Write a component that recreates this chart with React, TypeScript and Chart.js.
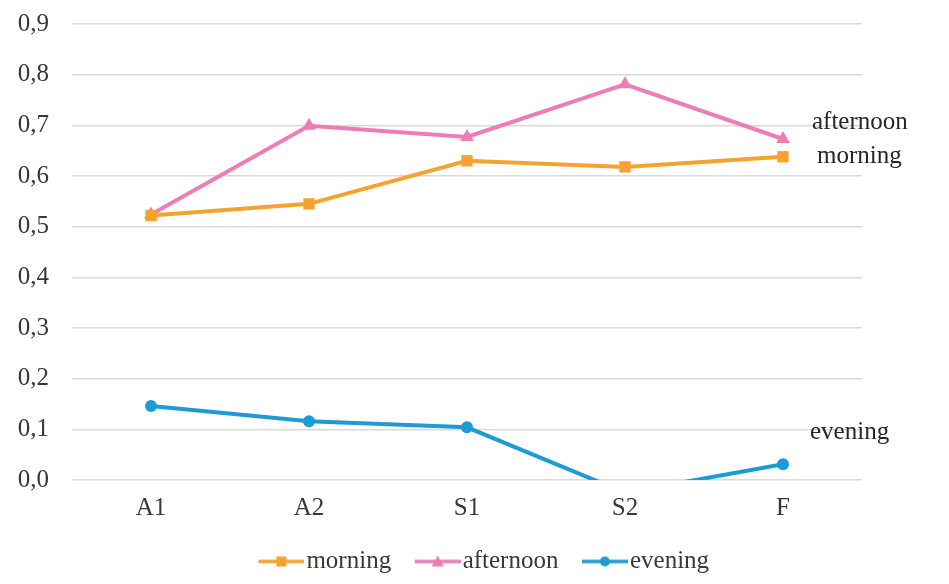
import React, { useEffect, useRef } from "react";
import { Chart, registerables } from "chart.js";

Chart.register(...registerables);

const categories = ["A1", "A2", "S1", "S2", "F"];
const morning = [0.522, 0.545, 0.63, 0.618, 0.638];
const afternoon = [0.524, 0.699, 0.677, 0.781, 0.673];
const evening = [0.146, 0.116, 0.104, -0.025, 0.031];
const yTicks = [0, 0.1, 0.2, 0.3, 0.4, 0.5, 0.6, 0.7, 0.8, 0.9];

const ORANGE = "#F5A330";
const PINK = "#EE7DB6";
const BLUE = "#1E9BD3";
const FONT = "'Liberation Serif', 'Times New Roman', serif";
const FS = 25;
const TEXT = "#383838";

function legendIcon(color: string, style: string) {
  const L = 11;
  const c = document.createElement("canvas");
  c.width = L + 46;
  c.height = 14;
  const ctx = c.getContext("2d")!;
  ctx.strokeStyle = color;
  ctx.lineWidth = 3.5;
  ctx.beginPath();
  ctx.moveTo(L, 7);
  ctx.lineTo(L + 46, 7);
  ctx.stroke();
  ctx.fillStyle = color;
  const cx = L + 23;
  if (style === "rect") {
    ctx.fillRect(cx - 5, 2, 10, 10);
  } else if (style === "triangle") {
    ctx.beginPath();
    ctx.moveTo(cx, 1);
    ctx.lineTo(cx + 6, 12);
    ctx.lineTo(cx - 6, 12);
    ctx.closePath();
    ctx.fill();
  } else {
    ctx.beginPath();
    ctx.arc(cx, 7, 5, 0, Math.PI * 2);
    ctx.fill();
  }
  return c;
}

const endLabels = {
  id: "endLabels",
  afterDatasetsDraw(chart: any, _args: any, opts: any) {
    const ctx = chart.ctx;
    ctx.save();
    ctx.font = `${FS}px ${FONT}`;
    ctx.fillStyle = "#262626";
    ctx.textAlign = "left";
    ctx.textBaseline = "middle";
    chart.data.datasets.forEach((ds: any, i: number) => {
      const meta = chart.getDatasetMeta(i);
      const pt = meta.data[meta.data.length - 1];
      const off = opts.offsets[i];
      ctx.fillText(ds.label, pt.x + off[0], pt.y + off[1]);
    });
    ctx.restore();
  },
};

export default function App() {
  const ref = useRef<HTMLCanvasElement>(null);
  useEffect(() => {
    const chart = new Chart(ref.current!, {
      type: "line",
      data: {
        labels: categories,
        datasets: [
          {
            label: "morning",
            data: morning,
            borderColor: ORANGE,
            backgroundColor: ORANGE,
            borderWidth: 4,
            pointStyle: "rect",
            pointRadius: 8,
            pointBorderWidth: 0,
            clip: 0,
            tension: 0,
          },
          {
            label: "afternoon",
            data: afternoon,
            borderColor: PINK,
            backgroundColor: PINK,
            borderWidth: 4,
            pointStyle: "triangle",
            pointRadius: 8,
            pointBorderWidth: 0,
            clip: 0,
            tension: 0,
          },
          {
            label: "evening",
            data: evening,
            borderColor: BLUE,
            backgroundColor: BLUE,
            borderWidth: 4,
            pointStyle: "circle",
            pointRadius: 6,
            pointBorderWidth: 0,
            clip: 0,
            tension: 0,
          },
        ],
      },
      options: {
        animation: false,
        responsive: false,
        layout: { padding: { top: 0, right: 0, left: 18, bottom: 0 } },
        scales: {
          x: {
            offset: true,
            grid: { display: false },
            border: { display: false },
            ticks: { font: { family: FONT, size: FS }, color: TEXT, padding: 5 },
            afterFit: (s: any) => {
              s.height = 46;
            },
          },
          y: {
            min: 0,
            max: 0.9,
            afterBuildTicks: (s: any) => {
              s.ticks = yTicks.map((v) => ({ value: v }));
            },
            afterFit: (s: any) => {
              s.width = 54;
              s.paddingTop = 24;
              s.paddingBottom = 0;
            },
            grid: { color: "#D9D9D9", lineWidth: 1.5, drawTicks: false },
            border: { display: false },
            ticks: {
              font: { family: FONT, size: FS },
              color: TEXT,
              padding: 23,
              callback: (v: any) => Number(v).toFixed(1).replace(".", ","),
            },
          },
          yRight: {
            position: "right",
            display: true,
            grid: { display: false, drawTicks: false },
            border: { display: false },
            ticks: { display: false },
            afterFit: (s: any) => {
              s.width = 87;
              s.paddingTop = 0;
              s.paddingBottom = 0;
            },
          },
        },
        plugins: {
          legend: {
            position: "bottom",
            labels: {
              usePointStyle: true,
              pointStyleWidth: 36,
              padding: 23,
              font: { family: FONT, size: FS },
              color: TEXT,
              generateLabels: (ch: any) =>
                ch.data.datasets.map((ds: any, i: number) => ({
                  text: ds.label,
                  pointStyle: legendIcon(ds.borderColor, ds.pointStyle),
                  fillStyle: ds.borderColor,
                  strokeStyle: ds.borderColor,
                  lineWidth: 0,
                  datasetIndex: i,
                  hidden: false,
                  fontColor: TEXT,
                })),
            },
          },
          tooltip: { enabled: false },
          endLabels: { offsets: [[34, 0], [29, -17], [27, -32]] },
        } as any,
      },
      plugins: [endLabels],
    });
    return () => chart.destroy();
  }, []);
  return (
    <div
      style={{
        margin: -8,
        width: 949,
        height: 584,
        background: "linear-gradient(#f2f2f2 0px, #f2f2f2 4px, #ffffff 4px)",
      }}
    >
      <canvas ref={ref} width={949} height={584} style={{ display: "block" }} />
    </div>
  );
}
